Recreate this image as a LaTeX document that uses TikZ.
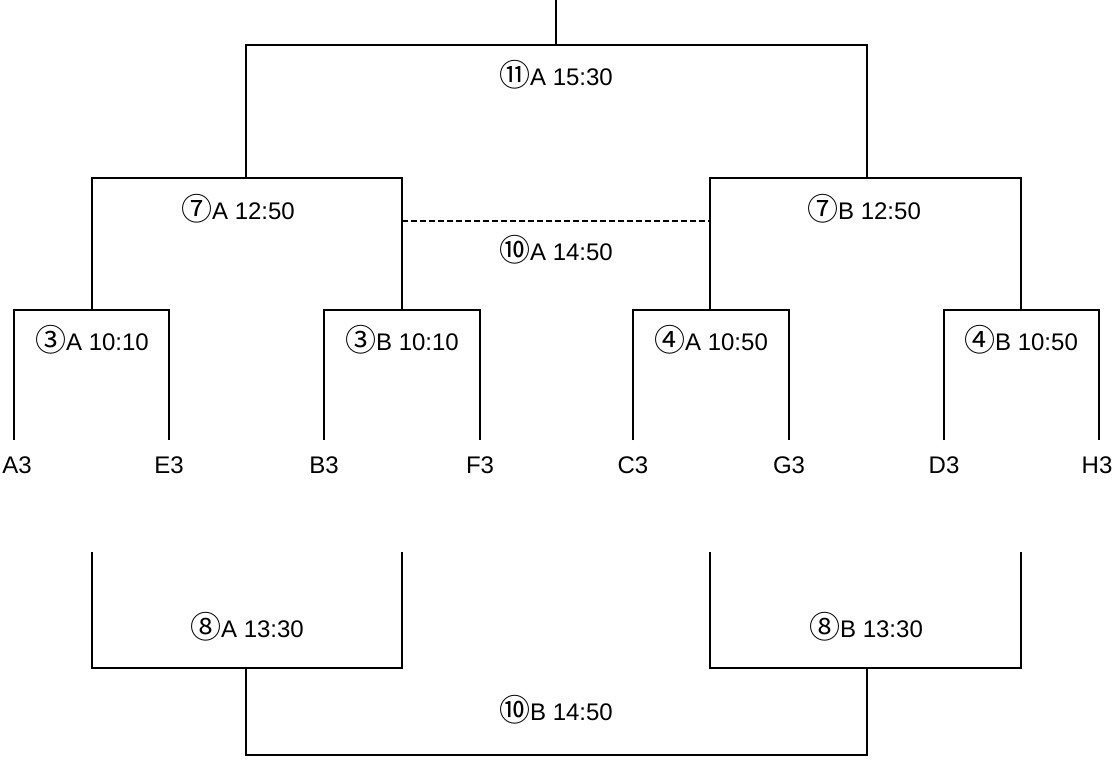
\documentclass[tikz,border=0pt]{standalone}
\usepackage{fontspec}
\setmainfont{Liberation Sans}
\newfontfamily\jpfont{Noto Sans CJK JP}
\newcommand{\circnum}[1]{{\jpfont\fontsize{31}{32}\selectfont\raisebox{-1.5pt}{#1}}}
\begin{document}
\begin{tikzpicture}[x=1pt,y=-1pt,
  br/.style={line width=2pt,line join=miter},
  lbl/.style={font=\fontsize{24}{28}\selectfont,inner sep=0pt},
  team/.style={font=\fontsize{24}{28}\selectfont,inner sep=0pt}]
\useasboundingbox (0,0) rectangle (1113,761);
% coordinates
\coordinate (top) at (556,0);
\coordinate (f) at (556,45);
\coordinate (fl) at (246,45);
\coordinate (fr) at (867,45);
\coordinate (sl) at (246,178);
\coordinate (sr) at (867,178);
\coordinate (slA) at (92,178);
\coordinate (slB) at (402,178);
\coordinate (srA) at (710,178);
\coordinate (srB) at (1021,178);
\coordinate (q1) at (92,310);
\coordinate (q2) at (402,310);
\coordinate (q3) at (710,310);
\coordinate (q4) at (1021,310);
\coordinate (q1a) at (14,310);
\coordinate (q1b) at (169,310);
\coordinate (q2a) at (324,310);
\coordinate (q2b) at (480,310);
\coordinate (q3a) at (633,310);
\coordinate (q3b) at (789,310);
\coordinate (q4a) at (944,310);
\coordinate (q4b) at (1099,310);
\coordinate (e1) at (14,440);
% leaf nodes
\node[team] (A3) at (17,465) {A3};
\node[team] (E3) at (169,465) {E3};
\node[team] (B3) at (324,465) {B3};
\node[team] (F3) at (480,465) {F3};
\node[team] (C3) at (633,465) {C3};
\node[team] (G3) at (789,465) {G3};
\node[team] (D3) at (944,465) {D3};
\node[team] (H3) at (1097,465) {H3};
% match labels
\node[lbl] (m11) at (556,75) {\circnum{⑪}A 15:30};
\node[lbl] (m7a) at (238,209) {\circnum{⑦}A 12:50};
\node[lbl] (m7b) at (864,209) {\circnum{⑦}B 12:50};
\node[lbl] (m10a) at (556,250) {\circnum{⑩}A 14:50};
\node[lbl] (m3a) at (92,340) {\circnum{③}A 10:10};
\node[lbl] (m3b) at (402,340) {\circnum{③}B 10:10};
\node[lbl] (m4a) at (711,340) {\circnum{④}A 10:50};
\node[lbl] (m4b) at (1021,340) {\circnum{④}B 10:50};
\node[lbl] (m8a) at (247,627) {\circnum{⑧}A 13:30};
\node[lbl] (m8b) at (866,627) {\circnum{⑧}B 13:30};
\node[lbl] (m10b) at (556,710) {\circnum{⑩}B 14:50};
% bracket lines
\draw[br] (top) -- (f);
\draw[br] (sl) -- (fl) -- (fr) -- (sr);
\draw[br] (q1) -- (slA) -- (slB) -- (q2);
\draw[br] (q3) -- (srA) -- (srB) -- (q4);
\draw[br] (e1) -- (q1a) -- (q1b) -- (q1b |- e1);
\draw[br] (q2a |- e1) -- (q2a) -- (q2b) -- (q2b |- e1);
\draw[br] (q3a |- e1) -- (q3a) -- (q3b) -- (q3b |- e1);
\draw[br] (q4a |- e1) -- (q4a) -- (q4b) -- (q4b |- e1);
\coordinate (da) at (402,221);
\coordinate (db) at (710,221);
\draw[line width=1.5pt,dash pattern=on 6pt off 3pt] (da) -- (db);
% consolation bracket
\coordinate (c1) at (92,552);
\coordinate (c2) at (402,552);
\coordinate (c3) at (710,552);
\coordinate (c4) at (1021,552);
\coordinate (c1b) at (92,668);
\coordinate (c2b) at (402,668);
\coordinate (c3b) at (710,668);
\coordinate (c4b) at (1021,668);
\coordinate (cl) at (246,668);
\coordinate (cr) at (867,668);
\coordinate (cl2) at (246,755);
\coordinate (cr2) at (867,755);
\draw[br] (c1) -- (c1b) -- (c2b) -- (c2);
\draw[br] (c3) -- (c3b) -- (c4b) -- (c4);
\draw[br] (cl) -- (cl2) -- (cr2) -- (cr);
\end{tikzpicture}
\end{document}
